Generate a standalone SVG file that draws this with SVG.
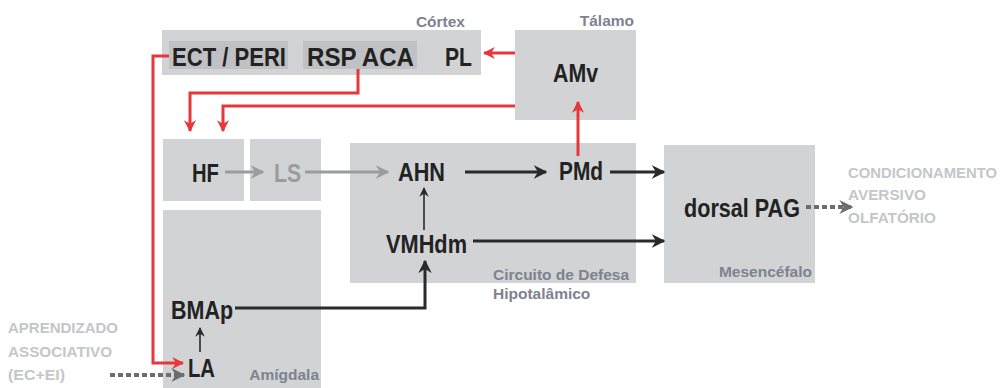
<svg xmlns="http://www.w3.org/2000/svg" width="1000" height="388" viewBox="0 0 1000 388">
<style>
.box{fill:#d1d3d5}
.inner{fill:#bfc1c4}
.n{font-family:"Liberation Sans",Arial,sans-serif;font-weight:bold;fill:#222;font-size:26px}
.reg{font-family:"Liberation Sans",Arial,sans-serif;font-weight:bold;fill:#7c838f;font-size:15.5px}
.side{font-family:"Liberation Sans",Arial,sans-serif;font-weight:bold;fill:#c4c6c9;font-size:15px}
.red{stroke:#e8373a;stroke-width:3;fill:none}
.dark{stroke:#2a2a2a;stroke-width:3;fill:none}
.thin{stroke:#2a2a2a;stroke-width:1.6;fill:none}
.gray{stroke:#9a9c9f;stroke-width:3;fill:none}
.dot{stroke:#6b6d70;stroke-width:4;fill:none;stroke-dasharray:5 3}
</style>
<defs>
<marker id="ar" viewBox="0 0 10 10" refX="9" refY="5" markerWidth="4" markerHeight="4" orient="auto" markerUnits="strokeWidth"><path d="M0,0 L10,5 L0,10 L3,5 Z" fill="#e8373a"/></marker>
<marker id="ad" viewBox="0 0 10 10" refX="9" refY="5" markerWidth="4.5" markerHeight="4.5" orient="auto" markerUnits="strokeWidth"><path d="M0,0 L10,5 L0,10 L3,5 Z" fill="#2a2a2a"/></marker>
<marker id="at" viewBox="0 0 10 10" refX="9" refY="5" markerWidth="6" markerHeight="6" orient="auto" markerUnits="strokeWidth"><path d="M0,0 L10,5 L0,10 L3,5 Z" fill="#2a2a2a"/></marker>
<marker id="ag" viewBox="0 0 10 10" refX="9" refY="5" markerWidth="4.5" markerHeight="4.5" orient="auto" markerUnits="strokeWidth"><path d="M0,0 L10,5 L0,10 L3,5 Z" fill="#9a9c9f"/></marker>
<marker id="ap" viewBox="0 0 10 10" refX="9" refY="5" markerWidth="3.5" markerHeight="3.5" orient="auto" markerUnits="strokeWidth"><path d="M0,0 L10,5 L0,10 L3,5 Z" fill="#6b6d70"/></marker>
</defs>

<g id="cortex">
<rect class="box" x="162" y="30" width="319" height="45"/>
<rect class="inner" x="169" y="41" width="119" height="28"/>
<rect class="inner" x="303" y="41" width="114" height="28"/>
<text class="n" x="172" y="66" textLength="114" lengthAdjust="spacingAndGlyphs">ECT / PERI</text>
<text class="n" x="307" y="66" textLength="107" lengthAdjust="spacingAndGlyphs">RSP  ACA</text>
<text class="n" x="445" y="66" textLength="27" lengthAdjust="spacingAndGlyphs">PL</text>
<text class="reg" x="465" y="27" text-anchor="end">Córtex</text>
</g>
<g id="talamo">
<rect class="box" x="515" y="30" width="121" height="90"/>
<text class="n" x="553" y="82" textLength="45" lengthAdjust="spacingAndGlyphs">AMv</text>
<text class="reg" x="634" y="26" text-anchor="end">Tálamo</text>
</g>
<g id="hf">
<rect class="box" x="163" y="139" width="81" height="62"/>
<text class="n" x="192" y="182" textLength="27" lengthAdjust="spacingAndGlyphs">HF</text>
</g>
<g id="ls">
<rect class="box" x="250" y="139" width="71" height="62"/>
<text class="n" x="274" y="182" textLength="27" lengthAdjust="spacingAndGlyphs" style="fill:#9a9c9f">LS</text>
</g>
<g id="amigdala">
<rect class="box" x="163" y="210" width="158" height="178"/>
<text class="n" x="171" y="319" textLength="62" lengthAdjust="spacingAndGlyphs">BMAp</text>
<text class="n" x="188" y="377" textLength="27" lengthAdjust="spacingAndGlyphs">LA</text>
<text class="reg" x="319" y="380" text-anchor="end">Amígdala</text>
</g>
<g id="hipotalamo">
<rect class="box" x="350" y="143" width="286" height="140"/>
<text class="n" x="398" y="181" textLength="47" lengthAdjust="spacingAndGlyphs">AHN</text>
<text class="n" x="559" y="180" textLength="44" lengthAdjust="spacingAndGlyphs">PMd</text>
<text class="n" x="386" y="253" textLength="81" lengthAdjust="spacingAndGlyphs">VMHdm</text>
<text class="reg" x="493" y="280">Circuito de Defesa</text>
<text class="reg" x="493" y="299">Hipotalâmico</text>
</g>
<g id="mesencefalo">
<rect class="box" x="664" y="145" width="151" height="138"/>
<text class="n" x="684" y="217" textLength="116" lengthAdjust="spacingAndGlyphs">dorsal PAG</text>
<text class="reg" x="812" y="277" text-anchor="end">Mesencéfalo</text>
</g>
<g id="labels">
<text class="side" x="848" y="178" textLength="149" lengthAdjust="spacingAndGlyphs">CONDICIONAMENTO</text>
<text class="side" x="848" y="200" textLength="78" lengthAdjust="spacingAndGlyphs">AVERSIVO</text>
<text class="side" x="848" y="223" textLength="88" lengthAdjust="spacingAndGlyphs">OLFATÓRIO</text>
<text class="side" x="8" y="333" textLength="110" lengthAdjust="spacingAndGlyphs">APRENDIZADO</text>
<text class="side" x="8" y="357" textLength="104" lengthAdjust="spacingAndGlyphs">ASSOCIATIVO</text>
<text class="side" x="8" y="380" textLength="57" lengthAdjust="spacingAndGlyphs">(EC+EI)</text>
</g>

<g id="connectors">
<path class="red" d="M169,56 H153 V363 H183" marker-end="url(#ar)"/>
<path class="red" d="M358,69 V93 H190 V131" marker-end="url(#ar)"/>
<path class="red" d="M515,106 H223 V131" marker-end="url(#ar)"/>
<path class="red" d="M515,53 H484" marker-end="url(#ar)"/>
<path class="red" d="M578,156 V102" stroke-width="2" marker-end="url(#ar)"/>
<path class="gray" d="M225,172 H263" marker-end="url(#ag)"/>
<path class="gray" d="M305,172 H388" marker-end="url(#ag)"/>
<path class="dark" d="M465,172 H546" marker-end="url(#ad)"/>
<path class="dark" d="M610,172 H664" marker-end="url(#ad)"/>
<path class="dark" d="M473,241 H664" marker-end="url(#ad)"/>
<path class="thin" d="M424,230 V188" marker-end="url(#at)"/>
<path class="dark" d="M235,308 H425 V261" marker-end="url(#ad)"/>
<path class="thin" d="M200,352 V328" marker-end="url(#at)"/>
<path class="dot" d="M110,375 H184" marker-end="url(#ap)"/>
<path class="dot" d="M806,207 H852" marker-end="url(#ap)"/>
</g>
</svg>
